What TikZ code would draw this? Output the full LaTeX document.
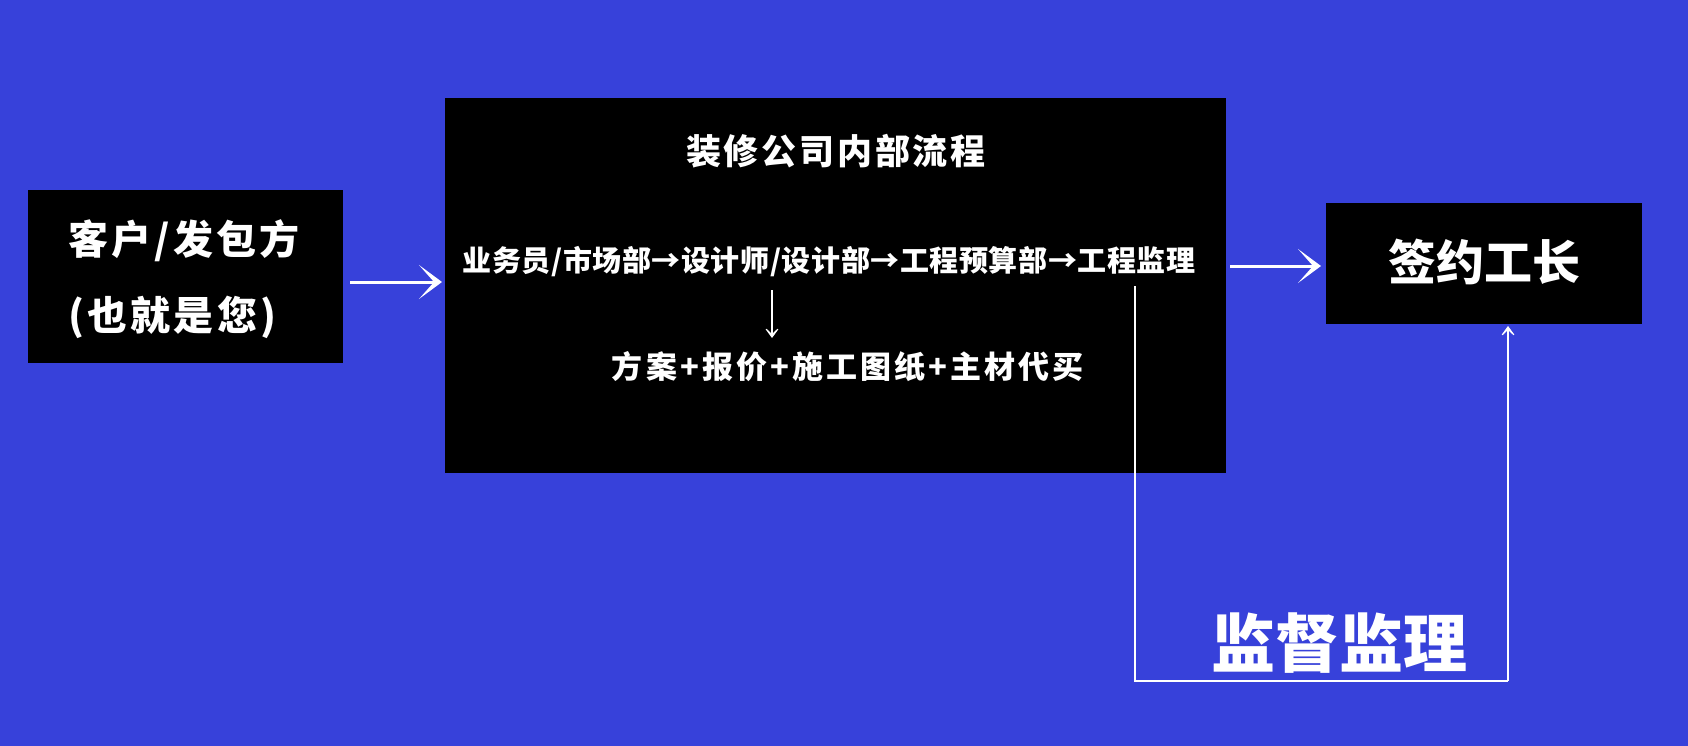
\documentclass[tikz,border=0pt]{standalone}
\usepackage{fontspec}
\setmainfont{Noto Sans CJK SC}
\usetikzlibrary{arrows.meta}
\definecolor{bg}{RGB}{55,65,218}
\begin{document}
\begin{tikzpicture}[x=1pt,y=-1pt,
  blk/.style={fill=black, draw=none, inner sep=0pt},
  txt/.style={text=white, inner sep=0pt, font=\bfseries},
  bigarrow/.style={draw=white, line width=3pt, -{Stealth[length=23pt,width=34pt,inset=15pt]}},
  thinarrow/.style={draw=white, line width=1.3pt, -{Stealth[length=13pt,width=19pt,inset=9pt]}},
  fbline/.style={draw=white, line width=1.3pt}]
\useasboundingbox[fill=bg] (0,0) rectangle (1688,746);
% boxes
\node[blk, minimum width=315pt, minimum height=173pt] (client) at (185.5,276.5) {};
\node[blk, minimum width=781pt, minimum height=375pt] (company) at (835.5,285.5) {};
\node[blk, minimum width=316pt, minimum height=121pt] (boss) at (1484,263.5) {};
% texts
\node[txt, anchor=west, font=\fontsize{40}{40}\bfseries\addfontfeatures{LetterSpace=8}] (c1) at (68,241) {客户/发包方};
\node[txt, anchor=west, font=\fontsize{40}{40}\bfseries\addfontfeatures{LetterSpace=8}] (c2) at (68,317) {(也就是您)};
\node[txt, font=\fontsize{35}{35}\bfseries\addfontfeatures{LetterSpace=8}] (title) at (836,151) {装修公司内部流程};
\node[txt, font=\fontsize{29}{29}\bfseries\addfontfeatures{LetterSpace=2}] (flow) at (829,262) {业务员/市场部→设计师/设计部→工程预算部→工程监理};
\node[txt, font=\fontsize{31}{31}\bfseries\addfontfeatures{LetterSpace=10}] (result) at (848,367) {方案+报价+施工图纸+主材代买};
\node[txt, font=\fontsize{48}{48}\bfseries] (bosst) at (1484,262) {签约工长};
\node[txt, font=\fontsize{64}{64}\bfseries] (sup) at (1339,643) {监督监理};
% connectors
\coordinate (a1s) at (350,282);
\coordinate (a1e) at (442,282);
\draw[bigarrow] (a1s) -- (a1e);
\coordinate (a2s) at (1230,266);
\coordinate (a2e) at (1321,266);
\draw[bigarrow] (a2s) -- (a2e);
\coordinate (d1s) at (772,290);
\coordinate (d1e) at (772,338);
\draw[thinarrow] (d1s) -- (d1e);
\coordinate (fbs) at (1135,286);
\coordinate (fbb) at (1135,681);
\coordinate (fbc) at (1508,681);
\coordinate (fbe) at (1508,326);
\draw[fbline] (fbs) -- (fbb) -- (fbc);
\draw[thinarrow] (fbc) -- (fbe);
\end{tikzpicture}
\end{document}
